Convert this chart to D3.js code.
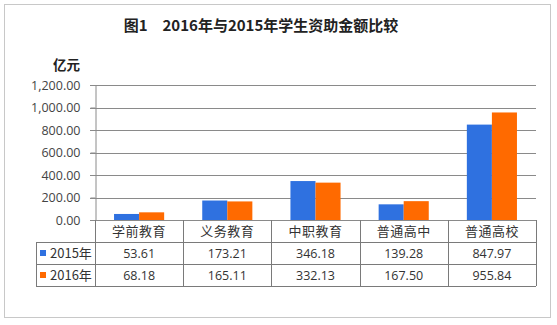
<!DOCTYPE html>
<html>
<head>
<meta charset="utf-8">
<script src="https://d3js.org/d3.v7.min.js"></script>
<style>
  body { margin: 0; background: #fff; }
  text { font-family: "Noto Sans CJK SC", "Noto Sans", sans-serif; }
</style>
</head>
<body>
<svg id="chart" width="557" height="325"></svg>
<script>
  // data
  const categories = ["学前教育", "义务教育", "中职教育", "普通高中", "普通高校"];
  const seriesNames = ["2015年", "2016年"];
  const values2015 = [53.61, 173.21, 346.18, 139.28, 847.97];
  const values2016 = [68.18, 165.11, 332.13, 167.50, 955.84];
  const yTicks = [0, 200, 400, 600, 800, 1000, 1200];
  const colors = ["#2f71e0", "#ff6a00"];
  const title = "图1　2016年与2015年学生资助金额比较";
  const unit = "亿元";

  const series = [values2015, values2016];

  const svg = d3.select("#chart");

  // frame
  svg.append("rect")
    .attr("x", 4.5).attr("y", 4.5)
    .attr("width", 546).attr("height", 313)
    .attr("fill", "#fff")
    .attr("stroke", "#c8c8c8");

  svg.append("text")
    .attr("x", 261).attr("y", 31)
    .attr("text-anchor", "middle")
    .style("font-size", "15px")
    .style("font-weight", "bold")
    .attr("fill", "#222")
    .text(title);

  svg.append("text")
    .attr("x", 80).attr("y", 70)
    .attr("text-anchor", "end")
    .style("font-size", "13.5px")
    .style("font-weight", "bold")
    .attr("fill", "#222")
    .text(unit);

  const x = d3.scaleBand().domain(categories).range([95, 536]);
  const x1 = d3.scaleBand().domain(seriesNames).range([0, x.bandwidth()]).paddingOuter(0.76);
  const y = d3.scaleLinear().domain([0, 1200]).range([220, 85]);

  // grid
  svg.append("g").selectAll("line")
    .data(yTicks)
    .join("line")
    .attr("x1", 90).attr("x2", 536)
    .attr("y1", d => Math.round(y(d)) + 0.5)
    .attr("y2", d => Math.round(y(d)) + 0.5)
    .attr("stroke", "#8a8a8a");

  // y axis labels
  const fmt = d3.format(",.2f");
  const yAxis = svg.append("g")
    .attr("transform", "translate(95.5,0)")
    .call(d3.axisLeft(y).tickValues(yTicks).tickFormat(fmt).tickSize(5).tickPadding(10));
  yAxis.select(".domain").attr("stroke", "#8a8a8a");
  yAxis.selectAll(".tick line").attr("stroke", "#8a8a8a");
  yAxis.selectAll("text")
    .style("font-family", "'Open Sans', 'Noto Sans', sans-serif")
    .style("font-size", "12.5px")
    .attr("fill", "#444");

  // bars
  svg.append("g").selectAll("g")
    .data(categories)
    .join("g")
    .attr("transform", d => `translate(${x(d)},0)`)
    .selectAll("rect")
    .data((d, i) => seriesNames.map((s, j) => ({ s, j, v: series[j][i] })))
    .join("rect")
    .attr("x", d => x1(d.s))
    .attr("width", x1.bandwidth())
    .attr("y", d => y(d.v))
    .attr("height", d => y(0) - y(d.v))
    .attr("fill", d => colors[d.j]);

  // data table
  const rowY = [220, 242, 264, 286];
  const tbl = svg.append("g").attr("stroke", "#7a7a7a").attr("fill", "none");
  // vertical lines
  const bounds = categories.map(c => x(c)).concat([x.range()[1]]);
  bounds.forEach(b => {
    tbl.append("line")
      .attr("x1", Math.round(b) + 0.5).attr("x2", Math.round(b) + 0.5)
      .attr("y1", 220).attr("y2", 286);
  });
  tbl.append("line").attr("x1", 36.5).attr("x2", 36.5).attr("y1", 242).attr("y2", 286);
  [242, 264, 286].forEach(r => {
    tbl.append("line")
      .attr("x1", 36).attr("x2", 536)
      .attr("y1", r + 0.5).attr("y2", r + 0.5);
  });

  // category labels
  svg.append("g").selectAll("text")
    .data(categories)
    .join("text")
    .attr("x", d => x(d) + x.bandwidth() / 2)
    .attr("y", 236)
    .attr("text-anchor", "middle")
    .style("font-size", "13px")
    .style("letter-spacing", "0.5px")
    .attr("fill", "#333")
    .text(d => d);

  // values rows
  series.forEach((vals, j) => {
    svg.append("g").selectAll("text")
      .data(vals)
      .join("text")
      .attr("x", (d, i) => x(categories[i]) + x.bandwidth() / 2)
      .attr("y", rowY[j + 1] + 16)
      .attr("text-anchor", "middle")
      .style("font-family", "'Open Sans', 'Noto Sans', sans-serif")
      .style("font-size", "12.5px")
      .attr("fill", "#333")
      .text(d => d.toFixed(2));

    svg.append("rect")
      .attr("x", 40).attr("y", rowY[j + 1] + 8)
      .attr("width", 6).attr("height", 6)
      .attr("fill", colors[j]);
    svg.append("text")
      .attr("x", 50).attr("y", rowY[j + 1] + 16)
      .style("font-size", "13px")
      .attr("fill", "#333")
      .text(seriesNames[j]);
  });
</script>
</body>
</html>
